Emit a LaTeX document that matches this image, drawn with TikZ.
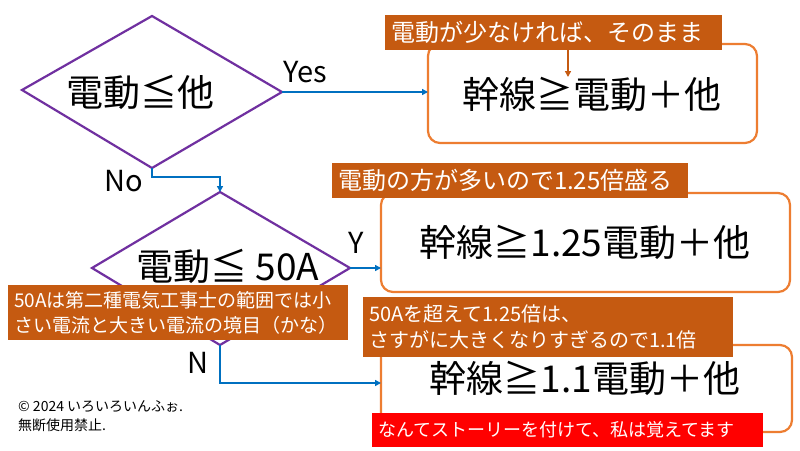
\documentclass[tikz,border=0pt]{standalone}
\usepackage{fontspec}
\setmainfont{Noto Sans CJK JP}
\usetikzlibrary{arrows.meta}
\definecolor{pur}{HTML}{7030A0}
\definecolor{org}{HTML}{ED7D31}
\definecolor{brn}{HTML}{C55A11}
\definecolor{blu}{HTML}{0070C0}
\begin{document}
\begin{tikzpicture}[x=1pt,y=-1pt,
 dia/.style={draw=pur,line width=2.2pt},
 box/.style={draw=org,line width=2.2pt,rounded corners=12pt},
 arr/.style={draw=blu,line width=2.4pt,-{Triangle[length=6pt,width=6pt]}},
 call/.style={fill=brn,text=white,inner sep=0pt,font=\fontsize{19}{25}\selectfont,align=left},
 callb/.style={call,font=\fontsize{24}{28}\selectfont},
 big/.style={font=\fontsize{37}{40}\selectfont},
 lab/.style={font=\fontsize{29}{30}\selectfont}]
\useasboundingbox (0,0) rectangle (800,450);
\fill[white] (0,0) rectangle (800,450);
% diamonds
\draw[dia] (22,90) coordinate(d1l) -- (152,16) -- (282,92) coordinate(d1r) -- (152,168) coordinate(d1b) -- cycle;
\node[big] (t1) at (140,92) {電動≦他};
\draw[dia] (92,268) -- (220,192) coordinate(d2t) -- (350,268) coordinate(d2r) -- (220,345) coordinate(d2b) -- cycle;
\node[big] (t2) at (228,266) {電動≦ 50A};
% boxes
\draw[box] (428,44) rectangle (757,143);
\node[big] (b1) at (592,94) {幹線≧電動＋他};
\coordinate (b1w) at (428,92);
\draw[box] (381,193) rectangle (790,292);
\node[big] (b2) at (585,242) {幹線≧1.25電動＋他};
\coordinate (b2w) at (381,268);
\draw[box] (381,345) rectangle (792,432);
\node[big] (b3) at (585,378) {幹線≧1.1電動＋他};
\coordinate (b3w) at (381,383);
% connectors
\draw[arr] (d1r) -- (b1w);
\node[lab] (yes) at (305,72) {Yes};
\coordinate (c1) at (152,177); \coordinate (c2) at (220,177);
\draw[arr] (d1b) -- (c1) -- (c2) -- (d2t);
\node[lab] (no) at (124,181) {No};
\draw[arr] (d2r) -- (b2w);
\node[lab] (yy) at (356,243) {Y};
\coordinate (c3) at (220,383);
\draw[arr] (d2b) -- (c3) -- (b3w);
\node[lab] (nn) at (198,363) {N};
% callouts
\node[callb,minimum width=337pt,minimum height=35pt,text width=325pt] (k1) at (553.5,32.5) {電動が少なければ、そのまま};
\coordinate (k1t) at (568,77);
\draw[draw=brn,line width=2pt,-{Triangle[length=6pt,width=6pt]}] (568,50) -- (k1t);
\node[callb,minimum width=356pt,minimum height=35pt,text width=344pt] (k2) at (510,180.5) {電動の方が多いので1.25倍盛る};
\node[call,minimum width=340pt,minimum height=55pt,text width=328pt] (k3) at (178,312.5) {50Aは第二種電気工事士の範囲では小\\さい電流と大きい電流の境目（かな）};
\node[call,font=\fontsize{20}{26}\selectfont,minimum width=370pt,minimum height=60pt,text width=358pt] (k4) at (548,327) {50Aを超えて1.25倍は、\\さすがに大きくなりすぎるので1.1倍};
\node[call,fill=red,minimum width=391pt,minimum height=34pt,text width=379pt,font=\fontsize{18}{20}\selectfont] (k5) at (567.5,430) {なんてストーリーを付けて、私は覚えてます};
\node[font=\fontsize{14}{19}\selectfont,align=left,anchor=north west,inner sep=0pt] (cp) at (18,400) {© 2024 いろいろいんふぉ.\\無断使用禁止.};
\end{tikzpicture}
\end{document}
